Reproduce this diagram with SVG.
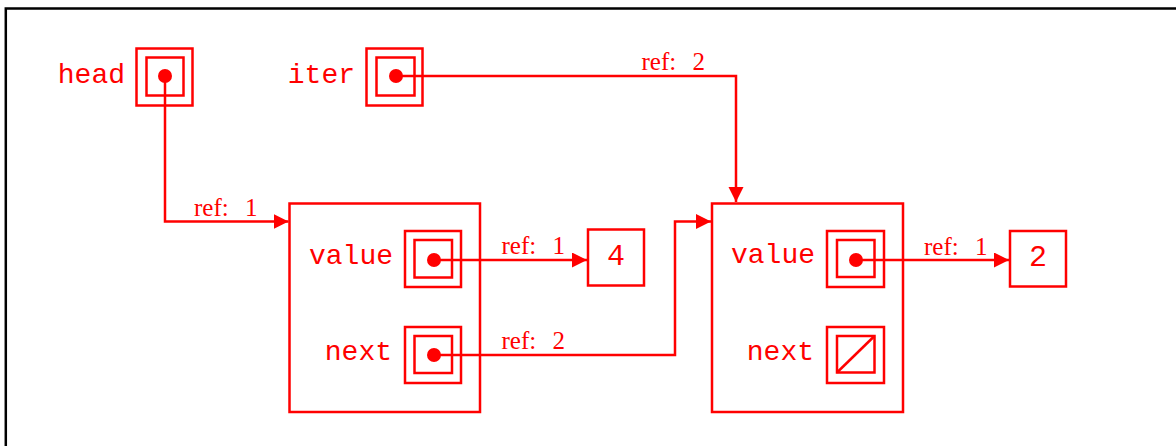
<svg xmlns="http://www.w3.org/2000/svg" width="1176" height="446" viewBox="0 0 1176 446">
  <style>
    .b { fill: none; stroke: #ff0000; stroke-width: 2.5; }
    .c { fill: none; stroke: #ff0000; stroke-width: 2.5; }
    .dot { fill: #ff0000; }
    .lbl { font-family: "Liberation Mono", monospace; font-size: 28px; fill: #ff0000; text-anchor: end; }
    .num { font-family: "Liberation Mono", monospace; font-size: 30px; fill: #ff0000; text-anchor: middle; }
    .ref { font-family: "Liberation Serif", serif; font-size: 25px; fill: #ff0000; }
  </style>
  <defs>
    <marker id="ah" markerUnits="userSpaceOnUse" markerWidth="16" markerHeight="16" refX="15" refY="7.5" orient="auto">
      <path d="M0,0 L15,7.5 L0,15 Z" fill="#ff0000"/>
    </marker>
  </defs>
  <rect x="5.8" y="8.5" width="1200" height="500" fill="#ffffff" stroke="#000000" stroke-width="2.5"/>

  <g id="head">
    <text class="lbl" x="125" y="83">head</text>
    <rect class="b" x="136.5" y="48.5" width="56" height="57"/>
    <rect class="b" x="146.5" y="57.5" width="37" height="38"/>
    <circle class="dot" cx="165" cy="76" r="7"/>
  </g>

  <g id="iter">
    <text class="lbl" x="355" y="83">iter</text>
    <rect class="b" x="366.5" y="48.5" width="56" height="57"/>
    <rect class="b" x="376.5" y="57.5" width="38" height="38"/>
    <circle class="dot" cx="396" cy="76" r="7"/>
  </g>

  <g id="node1">
    <rect class="b" x="289.5" y="203.5" width="190.5" height="208.5"/>
    <text class="lbl" x="393" y="264">value</text>
    <rect class="b" x="405" y="231" width="56" height="56"/>
    <rect class="b" x="414.5" y="240" width="37.5" height="37.5"/>
    <circle class="dot" cx="434" cy="260" r="7"/>
    <text class="lbl" x="392" y="360">next</text>
    <rect class="b" x="405" y="327" width="56" height="56"/>
    <rect class="b" x="414.5" y="336" width="37.5" height="37"/>
    <circle class="dot" cx="434" cy="355" r="7"/>
  </g>

  <g id="val4">
    <rect class="b" x="588" y="229.5" width="56" height="56"/>
    <text class="num" x="616" y="265">4</text>
  </g>

  <g id="node2">
    <rect class="b" x="712" y="203.5" width="191" height="208.5"/>
    <text class="lbl" x="815" y="263">value</text>
    <rect class="b" x="827" y="231" width="57" height="56"/>
    <rect class="b" x="837" y="240" width="37.5" height="37"/>
    <circle class="dot" cx="856" cy="260" r="7"/>
    <text class="lbl" x="814" y="360">next</text>
    <rect class="b" x="827" y="327" width="57" height="56"/>
    <rect class="b" x="837" y="336" width="37.5" height="36.5"/>
    <line class="b" x1="837" y1="372.5" x2="874.5" y2="336"/>
  </g>

  <g id="val2">
    <rect class="b" x="1010" y="231" width="56" height="55.5"/>
    <text class="num" x="1038" y="266">2</text>
  </g>

  <g id="connectors">
    <path class="c" d="M165,76 V221.5 H288.5" marker-end="url(#ah)"/>
    <text class="ref" x="194" y="216">ref: <tspan dx="10">1</tspan></text>
    <path class="c" d="M396,76 H736 V202" marker-end="url(#ah)"/>
    <text class="ref" x="641.5" y="70">ref: <tspan dx="10">2</tspan></text>
    <path class="c" d="M434,260 H587" marker-end="url(#ah)"/>
    <text class="ref" x="501.5" y="254">ref: <tspan dx="10">1</tspan></text>
    <path class="c" d="M434,355 H675 V221.5 H711" marker-end="url(#ah)"/>
    <text class="ref" x="501.5" y="349">ref: <tspan dx="10">2</tspan></text>
    <path class="c" d="M856,260 H1009" marker-end="url(#ah)"/>
    <text class="ref" x="924" y="255">ref: <tspan dx="10">1</tspan></text>
  </g>
</svg>
